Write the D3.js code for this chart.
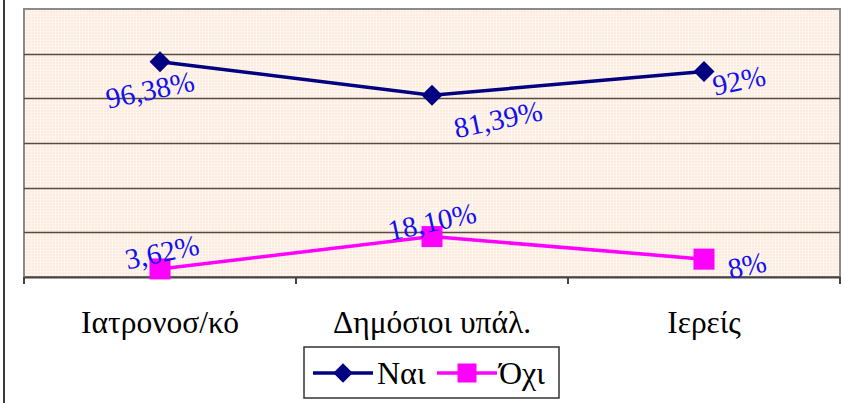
<!DOCTYPE html>
<html>
<head>
<meta charset="utf-8">
<script src="https://cdn.jsdelivr.net/npm/d3@7"></script>
<style>
  html, body { margin: 0; padding: 0; background: #fff; }
  svg { display: block; }
  svg text { font-family: "Liberation Serif", "Times New Roman", serif; }
</style>
</head>
<body>
<div id="chart"></div>
<script>
// Categories and the two answer series (percent)
const categories = ["Ιατρονοσ/κό", "Δημόσιοι υπάλ.", "Ιερείς"];
const yesValues = [96.38, 81.39, 92];
const noValues = [3.62, 18.10, 8];
const yesLabels = ["96,38%", "81,39%", "92%"];
const noLabels = ["3,62%", "18,10%", "8%"];
const seriesNames = ["Ναι", "Όχι"];
const yTicks = [0, 20, 40, 60, 80, 100, 120];

// Label placement relative to each point (Excel-style offsets)
const yesLabelOffsets = [[-10, 28], [66, 24], [35, 9]];
const noLabelOffsets = [[2, -17], [0, -15], [43, 6]];

const FONT = "Liberation Serif";
const W = 844, H = 403;
const plot = { left: 24, top: 9, right: 840, bottom: 277 };

const svg = d3.select("#chart").append("svg")
  .attr("width", W).attr("height", H);

// Dotted peach fill for the plot area
const defs = svg.append("defs");
const pat = defs.append("pattern")
  .attr("id", "dots").attr("patternUnits", "userSpaceOnUse")
  .attr("width", 3).attr("height", 3);
pat.append("rect").attr("width", 3).attr("height", 3).attr("fill", "#FDEADB");
pat.append("circle").attr("cx", 1.5).attr("cy", 1.5).attr("r", 1.15).attr("fill", "#FFFAF6");

const x = d3.scaleBand().domain(categories)
  .range([plot.left, plot.right]).paddingInner(0).paddingOuter(0);
const y = d3.scaleLinear().domain([0, 120]).range([plot.bottom, plot.top]);
const cx = c => x(c) + x.bandwidth() / 2;

// Outer frame line on the left
svg.append("line").attr("x1", 4).attr("x2", 4).attr("y1", 0).attr("y2", H)
  .attr("stroke", "#3a3a3a").attr("stroke-width", 2);

// Plot area
svg.append("rect")
  .attr("x", plot.left).attr("y", plot.top)
  .attr("width", plot.right - plot.left).attr("height", plot.bottom - plot.top)
  .attr("fill", "url(#dots)").attr("stroke", "#8a8a8a").attr("stroke-width", 2);

// Horizontal gridlines
svg.append("g").selectAll("line")
  .data(yTicks.filter(t => t > 0 && t < 120))
  .join("line")
  .attr("x1", plot.left).attr("x2", plot.right)
  .attr("y1", d => Math.round(y(d)) + 0.5).attr("y2", d => Math.round(y(d)) + 0.5)
  .attr("stroke", "#5a4a40").attr("stroke-width", 1.3);

// Category axis
const xAxis = d3.axisBottom(x).tickSize(0).tickPadding(0);
const gx = svg.append("g").attr("transform", `translate(0,${plot.bottom})`).call(xAxis);
gx.attr("font-family", FONT).attr("font-size", 31.5);
gx.select(".domain").attr("stroke", "#444").attr("stroke-width", 2);
gx.selectAll(".tick text")
  .attr("font-family", FONT).attr("font-size", 31.5)
  .attr("y", 56).attr("dy", 0)
  .attr("fill", "#000");
// Tick marks at category boundaries
const bounds = categories.map(c => x(c)).concat([plot.right]);
svg.append("g").selectAll("line").data(bounds).join("line")
  .attr("x1", d => d).attr("x2", d => d)
  .attr("y1", plot.bottom).attr("y2", plot.bottom + 7)
  .attr("stroke", "#444").attr("stroke-width", 2);

const line = d3.line().x(d => cx(d.c)).y(d => y(d.v));
const yesData = categories.map((c, i) => ({ c, v: yesValues[i], label: yesLabels[i], off: yesLabelOffsets[i] }));
const noData = categories.map((c, i) => ({ c, v: noValues[i], label: noLabels[i], off: noLabelOffsets[i] }));

const navy = "#000080", magenta = "#FF00FF";

svg.append("path").datum(yesData).attr("d", line)
  .attr("fill", "none").attr("stroke", navy).attr("stroke-width", 3.5);
svg.append("path").datum(noData).attr("d", line)
  .attr("fill", "none").attr("stroke", magenta).attr("stroke-width", 3.5);

const diamond = d3.symbol().type(d3.symbolSquare).size(220);
svg.append("g").selectAll("path").data(yesData).join("path")
  .attr("d", diamond)
  .attr("transform", d => `translate(${cx(d.c)},${y(d.v)}) rotate(45)`)
  .attr("fill", navy);

const squareSize = 21;
svg.append("g").selectAll("rect").data(noData).join("rect")
  .attr("x", d => cx(d.c) - squareSize / 2).attr("y", d => y(d.v) - squareSize / 2)
  .attr("width", squareSize).attr("height", squareSize)
  .attr("fill", magenta);

// Value labels, tilted
function drawLabels(data) {
  svg.append("g").selectAll("text").data(data).join("text")
    .attr("transform", d => `translate(${cx(d.c) + d.off[0]},${y(d.v) + d.off[1]}) rotate(-12)`)
    .attr("text-anchor", "middle").attr("dominant-baseline", "central")
    .attr("font-family", FONT).attr("font-size", 29)
    .attr("fill", "#1010F0")
    .text(d => d.label);
}
drawLabels(yesData);
drawLabels(noData);

// Legend
const lg = svg.append("g");
lg.append("rect").attr("x", 304).attr("y", 347).attr("width", 255).attr("height", 51)
  .attr("fill", "#fff").attr("stroke", "#333").attr("stroke-width", 1.5);
const ly = 373;
lg.append("line").attr("x1", 313).attr("x2", 373).attr("y1", ly).attr("y2", ly)
  .attr("stroke", navy).attr("stroke-width", 3.5);
lg.append("path").attr("d", d3.symbol().type(d3.symbolSquare).size(190))
  .attr("transform", `translate(343,${ly}) rotate(45)`).attr("fill", navy);
lg.append("text").attr("x", 377).attr("y", ly + 11)
  .attr("font-family", FONT).attr("font-size", 32).text(seriesNames[0]);
lg.append("line").attr("x1", 437).attr("x2", 497).attr("y1", ly).attr("y2", ly)
  .attr("stroke", magenta).attr("stroke-width", 3.5);
lg.append("rect").attr("x", 467 - 9.5).attr("y", ly - 9.5).attr("width", 19).attr("height", 19)
  .attr("fill", magenta);
lg.append("text").attr("x", 499).attr("y", ly + 11)
  .attr("font-family", FONT).attr("font-size", 32).text(seriesNames[1]);
</script>
</body>
</html>
